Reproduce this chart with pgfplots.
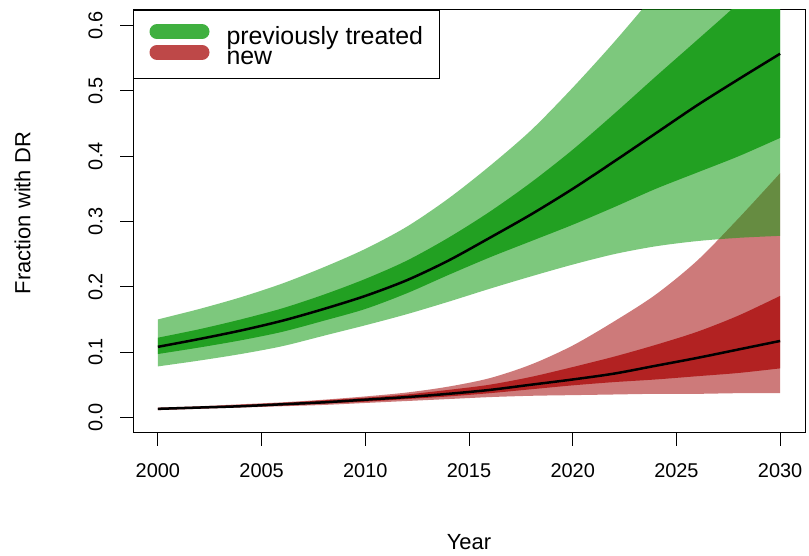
\documentclass[border=0pt]{standalone}
\usepackage{fontspec}
\setmainfont{Liberation Sans}
\usepackage{pgfplots}
\pgfplotsset{compat=1.18}
\usepgfplotslibrary{fillbetween}
\usepackage{pgfplotstable}
\definecolor{lred}{RGB}{205,122,122}
\definecolor{dred}{RGB}{178,34,34}
\definecolor{gbase}{RGB}{19,155,19}
\definecolor{dgreen}{RGB}{34,160,34}
\definecolor{leggreen}{RGB}{64,176,64}
\definecolor{legred}{RGB}{190,72,72}
\pgfplotstableread{
year gm gdu gdl glu gll rm rdu rdl rlu rll
2000 .108 .122 .097 .150 .078 .013 .014 .012 .015 .011
2002 .120 .135 .107 .166 .087 .015 .016 .014 .017 .013
2004 .133 .150 .118 .184 .097 .017 .019 .016 .020 .015
2006 .148 .167 .131 .205 .109 .020 .022 .018 .023 .017
2008 .166 .188 .148 .230 .125 .023 .026 .021 .027 .019
2010 .186 .212 .166 .258 .141 .027 .030 .024 .032 .022
2012 .210 .240 .190 .292 .158 .031 .035 .028 .038 .025
2014 .240 .275 .218 .335 .177 .036 .042 .032 .047 .028
2016 .275 .315 .245 .385 .197 .042 .050 .037 .060 .031
2018 .311 .360 .270 .440 .216 .050 .062 .043 .081 .033
2020 .350 .410 .295 .505 .234 .058 .077 .049 .110 .034
2022 .392 .465 .322 .575 .250 .067 .093 .054 .147 .035
2024 .435 .522 .350 .650 .262 .079 .111 .058 .188 .036
2026 .478 .578 .375 .730 .270 .091 .131 .063 .240 .036
2028 .518 .635 .400 .810 .275 .104 .156 .068 .305 .037
2030 .557 .700 .428 .890 .278 .117 .186 .075 .374 .037
}\data
\begin{document}
\begin{tikzpicture}
\begin{axis}[
  at={(133bp,123bp)}, anchor=south west,
  scale only axis, width=672bp, height=423bp,
  xmin=1998.8, xmax=2031.2, ymin=-0.024, ymax=0.624,
  xtick={2000,2005,2010,2015,2020,2025,2030},
  xticklabels={2000,2005,2010,2015,2020,2025,2030},
  ytick={0,0.1,0.2,0.3,0.4,0.5,0.6},
  yticklabels={0.0,0.1,0.2,0.3,0.4,0.5,0.6},
  /pgf/number format/assume math mode=true,
  tick align=outside, major tick length=13bp,
  xtick pos=bottom, ytick pos=left,
  tick style={black, line width=1bp},
  axis line style={line width=1bp},
  tick label style={font=\fontsize{20}{24}\selectfont},
  xticklabel style={yshift=-14bp},
  yticklabel style={xshift=-14bp, rotate=90, anchor=south},
  label style={font=\fontsize{22}{26}\selectfont},
  xlabel={Year}, ylabel={Fraction with DR},
  xlabel style={at={(axis description cs:0.5,-0.2577)}, anchor=center},
  ylabel style={at={(axis description cs:-0.1644,0.52)}, anchor=center},
  legend style={at={(0,1)}, anchor=north west, draw=black, line width=1bp,
    font=\fontsize{25}{28}\selectfont, inner xsep=16bp, inner ysep=13.5bp,
    row sep=0pt,
    nodes={inner sep=0bp, text height=20.5bp, text depth=0bp},
    /tikz/every odd column/.append style={column sep=17bp}},
  legend cell align=left,
]
\addlegendimage{legend image code/.code={\draw[draw=leggreen, line width=15bp, line cap=round] (7.5bp,2.5bp) -- (52.5bp,2.5bp); \path[draw=none, fill=none] (0bp,-5bp) rectangle (60bp,10bp);}}
\addlegendentry{previously treated}
\addlegendimage{legend image code/.code={\draw[draw=legred, line width=15bp, line cap=round] (7.5bp,2.5bp) -- (52.5bp,2.5bp); \path[draw=none, fill=none] (0bp,-5bp) rectangle (60bp,10bp);}}
\addlegendentry{new}

\addplot[draw=none, smooth, name path=rlu, forget plot] table[x=year,y=rlu]{\data};
\addplot[draw=none, smooth, name path=rll, forget plot] table[x=year,y=rll]{\data};
\addplot[draw=none, smooth, name path=rdu, forget plot] table[x=year,y=rdu]{\data};
\addplot[draw=none, smooth, name path=rdl, forget plot] table[x=year,y=rdl]{\data};
\addplot[draw=none, smooth, name path=glu, forget plot] table[x=year,y=glu]{\data};
\addplot[draw=none, smooth, name path=gll, forget plot] table[x=year,y=gll]{\data};
\addplot[draw=none, smooth, name path=gdu, forget plot] table[x=year,y=gdu]{\data};
\addplot[draw=none, smooth, name path=gdl, forget plot] table[x=year,y=gdl]{\data};

\addplot[fill=lred, draw=none, forget plot] fill between[of=rlu and rll];
\addplot[fill=dred, draw=none, forget plot] fill between[of=rdu and rdl];
\addplot[fill=gbase, fill opacity=0.55, draw=none, forget plot] fill between[of=glu and gll];
\addplot[fill=dgreen, draw=none, forget plot] fill between[of=gdu and gdl];

\addplot[black, line width=2.5bp, smooth, forget plot] table[x=year,y=gm]{\data};
\addplot[black, line width=2.5bp, smooth, forget plot] table[x=year,y=rm]{\data};
\end{axis}
\pgfresetboundingbox
\useasboundingbox (0,0) rectangle (809bp,556bp);
\end{tikzpicture}
\end{document}
